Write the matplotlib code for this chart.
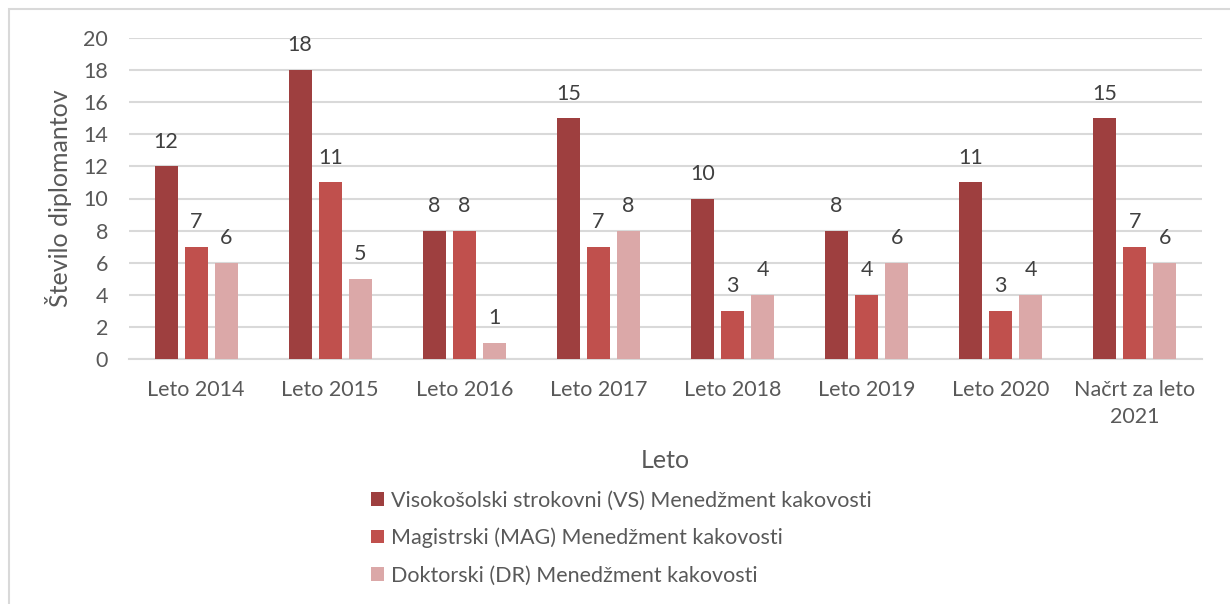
import matplotlib
matplotlib.use("Agg")
import matplotlib.pyplot as plt
import numpy as np
from matplotlib.patches import Rectangle

categories = ["Leto 2014", "Leto 2015", "Leto 2016", "Leto 2017", "Leto 2018",
              "Leto 2019", "Leto 2020", "Načrt za leto\n2021"]
series_names = ["Visokošolski strokovni (VS) Menedžment kakovosti",
                "Magistrski (MAG) Menedžment kakovosti",
                "Doktorski (DR) Menedžment kakovosti"]
vs_values = [12, 18, 8, 15, 10, 8, 11, 15]
mag_values = [7, 11, 8, 7, 3, 4, 3, 7]
dr_values = [6, 5, 1, 8, 4, 6, 4, 6]
yticks = [0, 2, 4, 6, 8, 10, 12, 14, 16, 18, 20]

colors = ["#9E3F3F", "#C0504D", "#DBA8A8"]
text_color = "#595959"
grid_color = "#D9D9D9"

plt.rcParams['font.family'] = ['Lato', 'DejaVu Sans']

W, H = 1230, 604
fig = plt.figure(figsize=(W / 100, H / 100), dpi=100)
ax = fig.add_axes([129 / W, (H - 359) / H, (1202 - 129) / W, (359 - 38) / H])

x = np.arange(len(categories))
bw = 23 / 134
step = 30 / 134
fs = 15.5
bars = []
for i, (vals, c, name) in enumerate(zip([vs_values, mag_values, dr_values], colors, series_names)):
    b = ax.bar(x + (i - 1) * step, vals, width=bw, color=c, label=name, zorder=3)
    bars.append(b)
    for xi, v in zip(x + (i - 1) * step, vals):
        ax.annotate(str(v), (xi, v), xytext=(0, 13.5), textcoords="offset points",
                    ha="center", va="baseline", fontsize=fs, color="#404040")

ax.set_xlim(-0.5, len(categories) - 0.5)
ax.set_ylim(0, 20)
ax.set_yticks(yticks)
ax.set_xticks(x)
ax.set_xticklabels(categories, linespacing=1.45)
ax.tick_params(axis="both", length=0, labelsize=fs, labelcolor=text_color)
ax.tick_params(axis="y", pad=15)
ax.tick_params(axis="x", pad=15)
ax.yaxis.grid(True, color=grid_color, linewidth=1.5, zorder=0)
ax.set_axisbelow(True)
for s in ["top", "right", "left"]:
    ax.spines[s].set_visible(False)
ax.spines["bottom"].set_color(grid_color)
ax.spines["bottom"].set_linewidth(1.5)

ax.set_xlabel("Leto", fontsize=18, color=text_color, labelpad=16)
ax.set_ylabel("Število diplomantov", fontsize=18, color=text_color, labelpad=8)

leg = fig.legend(handles=bars, labels=series_names, loc="upper left",
                 bbox_to_anchor=(352 / W, 1 - 471 / H), frameon=False,
                 fontsize=fs, labelcolor=text_color, handlelength=0.6,
                 handleheight=0.6, handletextpad=0.3, labelspacing=0.8)

fig.patches.append(Rectangle((8.5 / W, -0.1), 1.2, 1 + 0.1 - 9.5 / H,
                             transform=fig.transFigure, fill=False,
                             edgecolor=grid_color, linewidth=1.5, zorder=0))

fig.savefig("out.png", dpi=100)
